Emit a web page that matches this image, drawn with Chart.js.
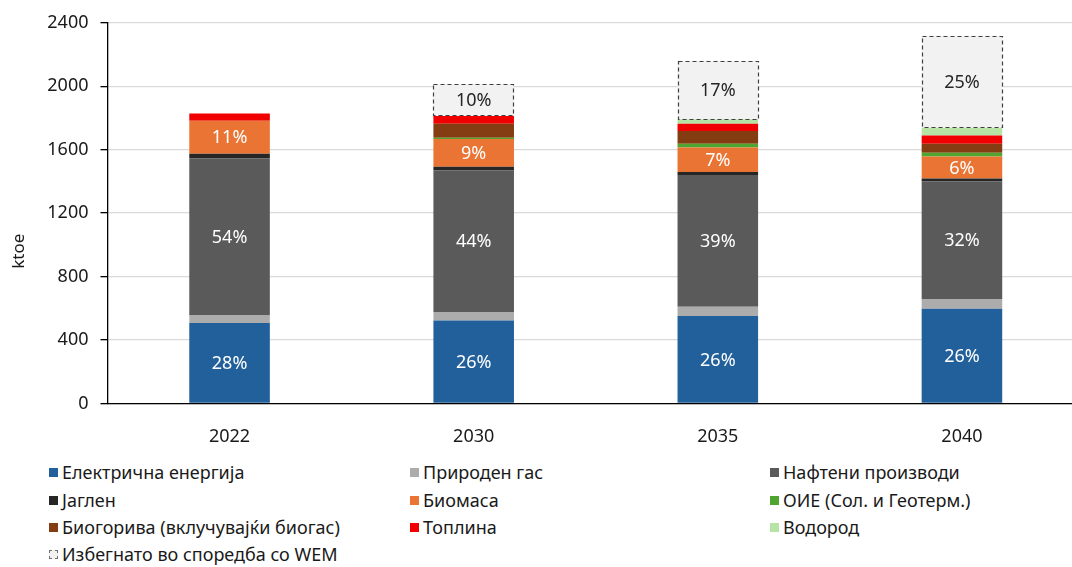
<!DOCTYPE html>
<html>
<head>
<meta charset="utf-8">
<script src="https://cdn.jsdelivr.net/npm/chart.js@4.4.1/dist/chart.umd.min.js"></script>
<style>
  html, body { margin: 0; padding: 0; background: #fff; overflow: hidden; }
  #wrap { position: relative; width: 1084px; height: 567px; font-family: "Noto Sans", sans-serif; }
  #box { position: absolute; left: 0; top: 0; width: 1084px; height: 450px; }
  #legend .item { position: absolute; height: 20px; line-height: 20px; font-size: 18px; color: #1a1a1a; white-space: nowrap; }
  #legend .sw { position: absolute; left: 0; top: 6px; width: 9px; height: 9px; box-sizing: border-box; }
  #legend .tx { position: absolute; left: 13px; top: 0; }
</style>
</head>
<body>
<div id="wrap">
  <div id="box"><canvas id="cMain"></canvas></div>
  <div id="legend"></div>
</div>
<script>
// --- data (ktoe) ---
const years = ["2022", "2030", "2035", "2040"];
const yTicks = [0, 400, 800, 1200, 1600, 2000, 2400];

const elec    = [507, 523, 552, 598];
const gas     = [47, 54, 58, 61];
const oil     = [991, 893, 831, 741];
const coal    = [29, 23, 19, 19];
const biomass = [208, 175, 154, 138];
const res     = [0, 8, 23, 23];
const biofuel = [0, 88, 81, 58];
const heat    = [46, 48, 46, 52];
const hydro   = [0, 0, 28, 48];
const avoided = [null, 202, 369, 580];

// share labels as printed in the bars
const elecLbl    = ["28%", "26%", "26%", "26%"];
const oilLbl     = ["54%", "44%", "39%", "32%"];
const biomassLbl = ["11%", "9%", "7%", "6%"];
const avoidedLbl = [null, "10%", "17%", "25%"];

const names = [
  "Електрична енергија", "Природен гас", "Нафтени производи",
  "Јаглен", "Биомаса", "ОИЕ (Сол. и Геотерм.)",
  "Биогорива (вклучувајќи биогас)", "Топлина", "Водород",
  "Избегнато во споредба со WEM"
];
const colors = ["#22609c", "#acacac", "#5a5a5a", "#262626", "#ea7434", "#4fa52f", "#843c12", "#f00000", "#b6e4a5", "#f2f2f2"];

const series = [elec, gas, oil, coal, biomass, res, biofuel, heat, hydro, avoided];
const labels = [elecLbl, null, oilLbl, null, biomassLbl, null, null, null, null, avoidedLbl];
const AVOID = 9;

const datasets = series.map((d, i) => ({
  label: names[i], data: d, backgroundColor: colors[i], borderWidth: 0,
  barPercentage: 0.33, categoryPercentage: 1, _lbl: labels[i]
}));

// dashed outline for the avoided block + % labels
const decor = {
  id: "decor",
  afterDatasetsDraw(chart) {
    const ctx = chart.ctx;
    const am = chart.getDatasetMeta(AVOID);
    ctx.save();
    ctx.strokeStyle = "#404040"; ctx.lineWidth = 1.2; ctx.setLineDash([4, 3]);
    am.data.forEach((el, j) => {
      if (avoided[j] == null) return;
      const p = el.getProps(["x", "y", "base", "width"], true);
      ctx.strokeRect(Math.round(p.x - p.width / 2) + 0.5, Math.round(p.y) + 0.5, Math.round(p.width) - 1, Math.round(p.base - p.y) - 1);
    });
    ctx.setLineDash([]);
    ctx.font = '18px "Noto Sans"'; ctx.textAlign = "center"; ctx.textBaseline = "middle";
    chart.data.datasets.forEach((ds, i) => {
      if (!ds._lbl) return;
      ctx.fillStyle = i === AVOID ? "#262626" : "#ffffff";
      chart.getDatasetMeta(i).data.forEach((el, j) => {
        const t = ds._lbl[j];
        if (!t) return;
        const p = el.getProps(["x", "y", "base"], true);
        ctx.fillText(t, p.x, (p.y + p.base) / 2 + 1);
      });
    });
    // axis title
    const a = chart.chartArea;
    ctx.fillStyle = "#1a1a1a";
    ctx.font = '17px "Noto Sans"';
    ctx.translate(19, a.top + (a.bottom - a.top) * 0.6);
    ctx.rotate(-Math.PI / 2);
    ctx.fillText("ktoe", 0, 0);
    ctx.restore();
  }
};

const chart = new Chart(document.getElementById("cMain").getContext("2d"), {
  type: "bar",
  data: { labels: years, datasets },
  options: {
    responsive: true, maintainAspectRatio: false, animation: false,
    layout: { padding: { top: 20, right: 0, bottom: 0, left: 0 } },
    plugins: { legend: { display: false }, tooltip: { enabled: false } },
    scales: {
      x: {
        stacked: true,
        grid: { display: false },
        border: { display: true, color: "#000", width: 1.3 },
        ticks: { color: "#1a1a1a", font: { family: "Noto Sans", size: 18 }, padding: 15 },
        afterFit: s => { s.height = 46.5; }
      },
      y: {
        stacked: true, min: 0, max: 2400,
        afterBuildTicks: s => { s.ticks = yTicks.map(v => ({ value: v })); },
        grid: { color: "#d9d9d9", lineWidth: 1.3, tickColor: "#000", tickLength: 7 },
        border: { display: true, color: "#000", width: 1.3 },
        ticks: { color: "#1a1a1a", font: { family: "Noto Sans", size: 18 }, padding: 12, callback: v => String(v) },
        afterFit: s => { s.width = 107.5; }
      }
    }
  },
  plugins: [decor]
});

// legend, 3 columns
const legendCols = [49, 410, 770];
const legendRows = [472, 500, 527, 554];
const lg = document.getElementById("legend");
names.forEach((n, i) => {
  const it = document.createElement("div");
  it.className = "item";
  it.style.left = legendCols[i % 3] + "px";
  it.style.top = (legendRows[Math.floor(i / 3)] - 10) + "px";
  const sw = document.createElement("span");
  sw.className = "sw";
  sw.style.background = colors[i];
  if (i === AVOID) { sw.style.border = "1px dashed #707070"; }
  const tx = document.createElement("span");
  tx.className = "tx";
  tx.textContent = n;
  it.appendChild(sw); it.appendChild(tx);
  lg.appendChild(it);
});
</script>
</body>
</html>
